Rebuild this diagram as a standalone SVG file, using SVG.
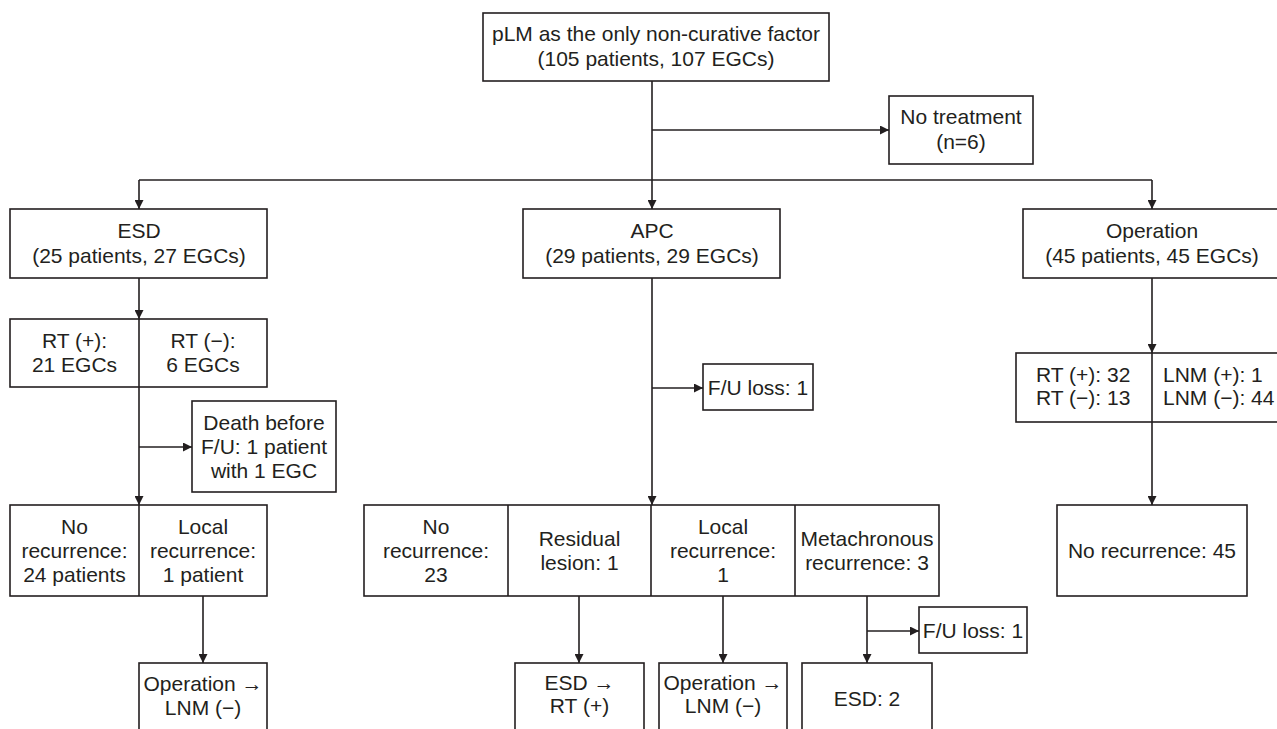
<svg xmlns="http://www.w3.org/2000/svg" width="1277" height="729" viewBox="0 0 1277 729">
<style>
.b{fill:#fff;stroke:#231f20;stroke-width:1.6}
.c{fill:none;stroke:#231f20;stroke-width:1.6}
text{font-family:"Liberation Sans",Arial,sans-serif;font-size:21px;fill:#231f20;text-anchor:middle}
.s{text-anchor:start}
</style>
<defs>
<marker id="a" viewBox="0 0 10 10" refX="10" refY="5" markerWidth="9" markerHeight="9" markerUnits="userSpaceOnUse" orient="auto">
<path d="M0,0L10,5L0,10z" fill="#231f20"/>
</marker>
</defs>
<rect width="1277" height="729" fill="#fff"/>
<g id="connectors">
<path class="c" d="M652,81V209" marker-end="url(#a)"/>
<path class="c" d="M652,130H889" marker-end="url(#a)"/>
<path class="c" d="M139,180H1152"/>
<path class="c" d="M139,180V209" marker-end="url(#a)"/>
<path class="c" d="M1152,180V209" marker-end="url(#a)"/>
<path class="c" d="M139,278V319" marker-end="url(#a)"/>
<path class="c" d="M139,387V505" marker-end="url(#a)"/>
<path class="c" d="M139,447H192" marker-end="url(#a)"/>
<path class="c" d="M203,596V663" marker-end="url(#a)"/>
<path class="c" d="M652,278V505" marker-end="url(#a)"/>
<path class="c" d="M652,388H703" marker-end="url(#a)"/>
<path class="c" d="M579,596V663" marker-end="url(#a)"/>
<path class="c" d="M723,596V663" marker-end="url(#a)"/>
<path class="c" d="M867,596V663" marker-end="url(#a)"/>
<path class="c" d="M867,631H919" marker-end="url(#a)"/>
<path class="c" d="M1152,278V353" marker-end="url(#a)"/>
<path class="c" d="M1152,422V505" marker-end="url(#a)"/>
</g>
<g id="root">
<rect class="b" x="483" y="13" width="346" height="68"/>
<text x="656" y="41">pLM as the only non-curative factor</text>
<text x="656" y="66">(105 patients, 107 EGCs)</text>
</g>
<g id="no-treatment">
<rect class="b" x="889" y="96" width="144" height="68"/>
<text x="961" y="124">No treatment</text>
<text x="961" y="149">(n=6)</text>
</g>
<g id="esd">
<rect class="b" x="10" y="209" width="257" height="69"/>
<text x="139" y="238">ESD</text>
<text x="139" y="263">(25 patients, 27 EGCs)</text>
</g>
<g id="apc">
<rect class="b" x="523" y="209" width="257" height="69"/>
<text x="652" y="238">APC</text>
<text x="652" y="263">(29 patients, 29 EGCs)</text>
</g>
<g id="operation">
<rect class="b" x="1023" y="209" width="258" height="69"/>
<text x="1152" y="238">Operation</text>
<text x="1152" y="263">(45 patients, 45 EGCs)</text>
</g>
<g id="esd-rt">
<rect class="b" x="10" y="319" width="257" height="68"/>
<path class="c" d="M139,319V387"/>
<text x="74.5" y="348">RT (+):</text>
<text x="74.5" y="372">21 EGCs</text>
<text x="203" y="348">RT (−):</text>
<text x="203" y="372">6 EGCs</text>
</g>
<g id="esd-death">
<rect class="b" x="192" y="401" width="144" height="91"/>
<text x="264" y="430">Death before</text>
<text x="264" y="454">F/U: 1 patient</text>
<text x="264" y="478">with 1 EGC</text>
</g>
<g id="esd-outcome">
<rect class="b" x="10" y="505" width="257" height="91"/>
<path class="c" d="M139,505V596"/>
<text x="74.5" y="534">No</text>
<text x="74.5" y="558">recurrence:</text>
<text x="74.5" y="582">24 patients</text>
<text x="203" y="534">Local</text>
<text x="203" y="558">recurrence:</text>
<text x="203" y="582">1 patient</text>
</g>
<g id="esd-op">
<rect class="b" x="139" y="663" width="128" height="80"/>
<text x="203" y="691">Operation →</text>
<text x="203" y="715">LNM (−)</text>
</g>
<g id="apc-fu">
<rect class="b" x="703" y="364" width="110" height="46"/>
<text x="758" y="395">F/U loss: 1</text>
</g>
<g id="apc-outcome">
<rect class="b" x="364" y="505" width="575" height="91"/>
<path class="c" d="M508,505V596M651,505V596M795,505V596"/>
<text x="436" y="534">No</text>
<text x="436" y="558">recurrence:</text>
<text x="436" y="582">23</text>
<text x="579.5" y="546">Residual</text>
<text x="579.5" y="570">lesion: 1</text>
<text x="723" y="534">Local</text>
<text x="723" y="558">recurrence:</text>
<text x="723" y="582">1</text>
<text x="867" y="546">Metachronous</text>
<text x="867" y="570">recurrence: 3</text>
</g>
<g id="apc-fu2">
<rect class="b" x="919" y="607" width="108" height="46"/>
<text x="973" y="638">F/U loss: 1</text>
</g>
<g id="apc-esd">
<rect class="b" x="515" y="663" width="129" height="80"/>
<text x="579.5" y="690">ESD →</text>
<text x="579.5" y="713">RT (+)</text>
</g>
<g id="apc-op">
<rect class="b" x="659" y="663" width="128" height="80"/>
<text x="723" y="690">Operation →</text>
<text x="723" y="713">LNM (−)</text>
</g>
<g id="apc-esd2">
<rect class="b" x="802" y="663" width="130" height="80"/>
<text x="867" y="706">ESD: 2</text>
</g>
<g id="op-rt">
<rect class="b" x="1016" y="353" width="280" height="69"/>
<path class="c" d="M1152,353V422"/>
<text class="s" x="1036" y="382">RT (+): 32</text>
<text class="s" x="1036" y="405">RT (−): 13</text>
<text class="s" x="1163" y="382">LNM (+): 1</text>
<text class="s" x="1163" y="405">LNM (−): 44</text>
</g>
<g id="op-outcome">
<rect class="b" x="1057" y="505" width="190" height="91"/>
<text x="1152" y="558">No recurrence: 45</text>
</g>
</svg>
